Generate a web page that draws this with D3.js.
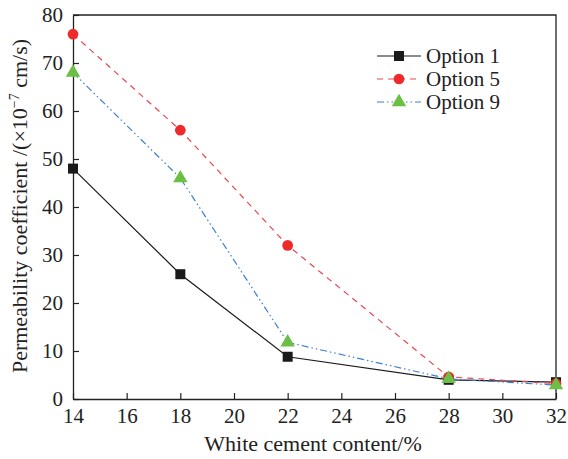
<!DOCTYPE html>
<html>
<head>
<meta charset="utf-8">
<script src="https://cdn.jsdelivr.net/npm/d3@7"></script>
<style>
  body { margin: 0; background: #fff; }
  svg text { font-family: "Liberation Serif", "Times New Roman", "DejaVu Serif", serif !important; }
</style>
</head>
<body>
<div id="chart"></div>
<script>
const contents = [14, 18, 22, 28, 32];
const option1 = [48, 26, 8.8, 4.0, 3.5];
const option5 = [76, 56, 32, 4.6, 3.2];
const option9 = [68, 46, 11.8, 4.2, 2.9];
const xTicks = [14, 16, 18, 20, 22, 24, 26, 28, 30, 32];
const yTicks = [0, 10, 20, 30, 40, 50, 60, 70, 80];

const width = 568, height = 459,
  margin = ({top: 15, right: 12, bottom: 60, left: 73});

const x = d3.scaleLinear().domain([14, 32]).range([margin.left, width - margin.right]);
const y = d3.scaleLinear().domain([0, 80]).range([height - margin.bottom, margin.top]);

const series = [
  {name: "Option 1", values: option1, color: "#1a1a1a", dash: null, symbol: d3.symbolSquare, fill: "#1a1a1a", size: 100},
  {name: "Option 5", values: option5, color: "#e8494f", dash: "6,5", symbol: d3.symbolCircle, fill: "#ee2a2a", size: 90},
  {name: "Option 9", values: option9, color: "#3b7fd0", dash: "7,3,1.5,3,1.5,3", symbol: d3.symbolTriangle, fill: "#6cbf45", size: 90}
];

const svg = d3.select("#chart").append("svg")
  .attr("width", width).attr("height", height);

// axes
svg.append("g")
  .attr("transform", `translate(0,${y(0)})`)
  .call(d3.axisBottom(x).tickValues(xTicks).tickSizeInner(-6).tickSizeOuter(0).tickPadding(9))
  .call(g => g.select(".domain").attr("stroke", "#222").attr("stroke-width", 1.3))
  .call(g => g.selectAll(".tick line").attr("stroke", "#222").attr("stroke-width", 1.2))
  .call(g => g.selectAll("text").attr("font-size", 21).attr("fill", "#222"));

svg.append("g")
  .attr("transform", `translate(${x(14)},0)`)
  .call(d3.axisLeft(y).tickValues(yTicks).tickSizeInner(-6).tickSizeOuter(0).tickPadding(10))
  .call(g => g.select(".domain").attr("stroke", "#222").attr("stroke-width", 1.3))
  .call(g => g.selectAll(".tick line").attr("stroke", "#222").attr("stroke-width", 1.2))
  .call(g => g.selectAll("text").attr("font-size", 21).attr("fill", "#222"));

// top and right frame
svg.append("path")
  .attr("d", `M${x(14)},${y(80)}H${x(32)}V${y(0)}`)
  .attr("fill", "none").attr("stroke", "#222").attr("stroke-width", 1.3);

// lines and markers
const line = d3.line().x((d, i) => x(contents[i])).y(d => y(d));

series.forEach(s => {
  svg.append("path")
    .datum(s.values)
    .attr("fill", "none")
    .attr("stroke", s.color)
    .attr("stroke-width", 1.2)
    .attr("stroke-dasharray", s.dash)
    .attr("d", line);
});

series.forEach(s => {
  svg.append("g").selectAll("path")
    .data(s.values)
    .join("path")
    .attr("transform", (d, i) => `translate(${x(contents[i])},${y(d)})`)
    .attr("d", d3.symbol(s.symbol, s.size))
    .attr("fill", s.fill);
});

// legend
const legend = svg.append("g").attr("transform", "translate(377,56)");
const rows = legend.selectAll("g").data(series).join("g")
  .attr("transform", (d, i) => `translate(0,${i * 23})`);
rows.append("line")
  .attr("x1", 0).attr("x2", 44)
  .attr("stroke", d => d.color).attr("stroke-width", 1.2)
  .attr("stroke-dasharray", d => d.dash);
rows.append("path")
  .attr("transform", "translate(22,0)")
  .attr("d", d => d3.symbol(d.symbol, d.size)())
  .attr("fill", d => d.fill);
rows.append("text")
  .attr("x", 49).attr("dy", "0.35em")
  .attr("font-size", 21).attr("fill", "#222")
  .text(d => d.name);

// axis titles
svg.append("text")
  .attr("x", 313).attr("y", 451)
  .attr("text-anchor", "middle").attr("font-size", 22).attr("fill", "#222")
  .text("White cement content/%");

const yt = svg.append("text")
  .attr("transform", `translate(27,${(y(0) + y(80)) / 2 - 1}) rotate(-90)`)
  .attr("text-anchor", "middle").attr("font-size", 22).attr("fill", "#222");
yt.append("tspan").text("Permeability coefficient /(×10");
yt.append("tspan").attr("font-size", 14).attr("dy", -8).text("−7");
yt.append("tspan").attr("dy", 8).text(" cm/s)");
</script>
</body>
</html>
